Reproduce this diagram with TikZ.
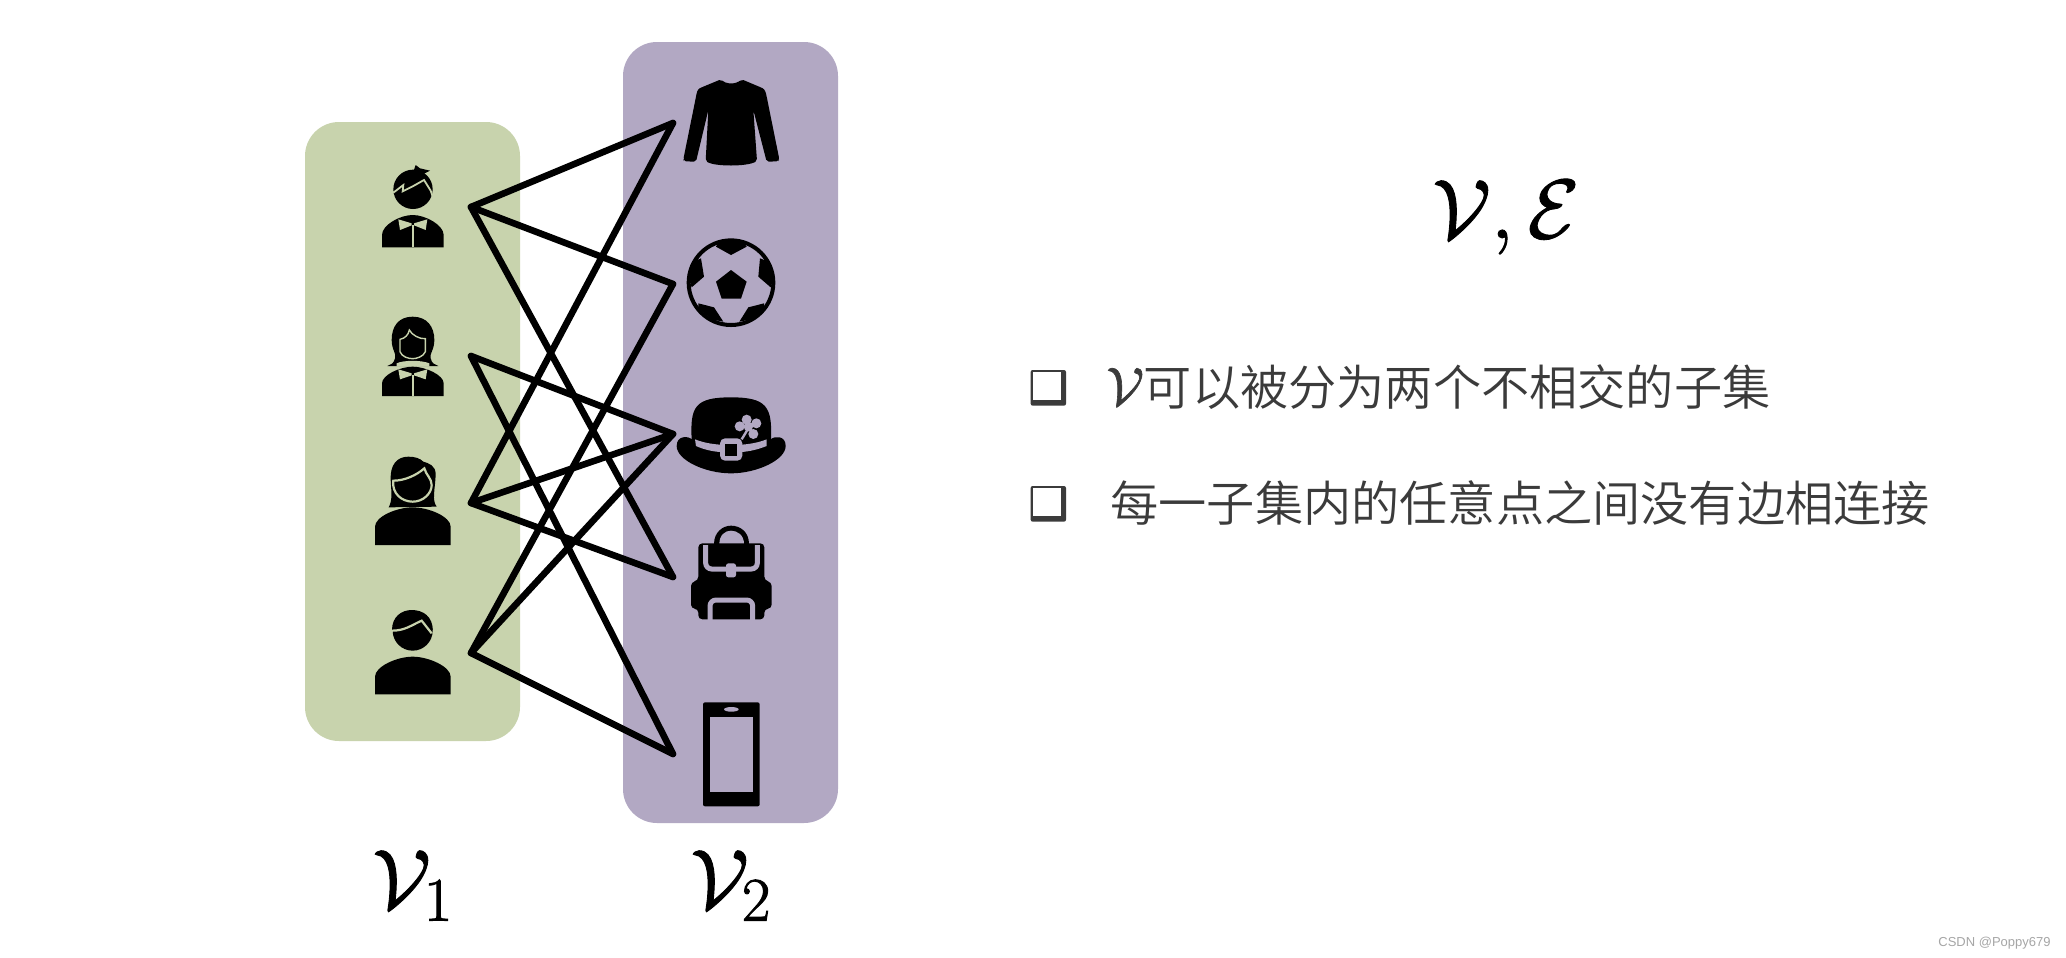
\RequirePackage{fix-cm}
\documentclass[tikz,border=0pt]{standalone}
\usepackage{fontspec}
\newfontfamily\cjk{Noto Sans CJK SC DemiLight}
\newfontfamily\wm{Liberation Sans}
\DeclareMathSizes{42}{42}{31}{22}
\DeclareMathSizes{27}{27}{19}{14}
\definecolor{grp1}{HTML}{C8D3AD}
\definecolor{grp2}{HTML}{B2A8C3}
\definecolor{ink}{HTML}{3B3B3B}
\newcommand{\heavy}[2]{\special{pdf:literal 2 Tr #1 w}#2\special{pdf:literal 0 Tr 0.3985 w}}
\tikzset{
  grpbox/.style={rounded corners=17pt},
  edge/.style={line width=3.3pt,line cap=round,black},
  zm/.style n args={2}{shift={(#1,#2)},x=0.16667pt,y=-0.16667pt},
  bigmath/.style={inner sep=0pt,anchor=base west,black},
  zh/.style={inner sep=0pt,anchor=base west,text=ink,font=\cjk\fontsize{24.1}{24.1}\selectfont},
  gl/.style={draw=grp1,line width=0.9pt},
}
\newcommand{\checkbox}[2]{%
  \begin{scope}[zm={#1}{#2}]
    \fill[ink,rounded corners=1pt] (92,90) rectangle (198,197);
    \fill[white] (100,97) rectangle (182,180);
  \end{scope}}
\begin{document}
\begin{tikzpicture}[x=0.5pt,y=-0.5pt]
\useasboundingbox (0,0) rectangle (2066,958);
\fill[white] (0,0) rectangle (2066,958);
% groups
\fill[grp1,grpbox] (305,122) rectangle (520,741);
\fill[grp2,grpbox] (623,42) rectangle (838,823);

% --- boy
\begin{scope}[zm={280}{100}]
  \fill (399,268) circle[radius=59];
  \fill (407,195) -- (420,205) -- (450,212) -- (430,222) -- (400,215) -- cycle;
  \draw[gl] (340,278) -- (370,255) -- (368,274) -- (400,258) -- (432,240) -- (452,272) -- (458,290);
  \fill (306,442) -- (306,405) .. controls (306,375) and (360,345) .. (398,345) .. controls (436,345) and (491,375) .. (491,405) -- (491,442) -- cycle;
  \fill[grp1] (355,358) -- (395,370) -- (395,376) -- (360,390) -- cycle;
  \fill[grp1] (442,358) -- (402,370) -- (402,376) -- (437,390) -- cycle;
  \fill[grp1] (395,376) rectangle (402,442);
\end{scope}
% --- girl
\begin{scope}[zm={280}{100}]
  \fill (398,650) .. controls (355,650) and (335,680) .. (335,720) .. controls (335,750) and (350,760) .. (345,775) .. controls (342,790) and (332,795) .. (322,798) -- (475,798) .. controls (465,795) and (455,790) .. (452,775) .. controls (448,760) and (463,750) .. (463,720) .. controls (463,680) and (441,650) .. (398,650) -- cycle;
  \draw[gl,line width=0.7pt] (360,718) .. controls (375,715) and (385,705) .. (388,690) .. controls (395,705) and (420,718) .. (436,716) -- (436,755) .. controls (430,770) and (410,776) .. (398,776) .. controls (385,776) and (365,770) .. (360,755) -- cycle;
  \fill[grp1] (350,790) .. controls (370,780) and (425,780) .. (448,790) -- (448,800) -- (350,800) -- cycle;
  \fill (306,888) -- (306,850) .. controls (306,825) and (360,800) .. (398,800) .. controls (436,800) and (491,825) .. (491,850) -- (491,888) -- cycle;
  \fill[grp1] (355,808) -- (395,820) -- (395,826) -- (360,838) -- cycle;
  \fill[grp1] (442,808) -- (402,820) -- (402,826) -- (437,838) -- cycle;
  \fill[grp1] (395,826) rectangle (402,888);
\end{scope}
% --- woman
\begin{scope}[zm={280}{400}]
  \fill (385,170) .. controls (350,170) and (330,195) .. (332,240) .. controls (334,275) and (338,300) .. (326,322) -- (470,320) .. controls (455,300) and (465,270) .. (467,225) .. controls (468,195) and (445,190) .. (430,185) .. controls (420,175) and (405,170) .. (385,170) -- cycle;
  \draw[gl,line width=1.1pt] (340,242) .. controls (375,242) and (410,225) .. (433,205) .. controls (438,225) and (455,235) .. (455,255) .. controls (455,280) and (430,305) .. (398,305) .. controls (365,305) and (335,280) .. (340,242) -- cycle;
  \fill (285,435) -- (285,380) .. controls (285,350) and (350,322) .. (398,322) .. controls (446,322) and (512,350) .. (512,380) -- (512,435) -- cycle;
\end{scope}
% --- man
\begin{scope}[zm={280}{400}]
  \fill (398,692) circle[radius=60];
  \fill (336,690) .. controls (336,650) and (365,630) .. (395,630) .. controls (430,630) and (458,650) .. (458,690) -- cycle;
  \draw[gl,line width=1.1pt] (336,692) .. controls (375,692) and (395,675) .. (425,662) -- (455,700);
  \fill (285,883) -- (285,830) .. controls (285,800) and (350,770) .. (398,770) .. controls (446,770) and (512,800) .. (512,830) -- (512,883) -- cycle;
\end{scope}
% --- shirt
\begin{scope}[zm={640}{50}]
  \fill[rounded corners=1pt] (243,88) .. controls (250,95) and (260,100) .. (273,100) .. controls (285,100) and (297,95) .. (305,88) -- (362,112) .. controls (375,118) and (378,130) .. (380,140) -- (418,328) -- (415,334) -- (380,335) -- (340,180) -- (351,333) .. controls (320,350) and (225,350) .. (197,333) -- (205,180) -- (168,335) -- (132,334) -- (130,328) -- (168,140) .. controls (170,130) and (172,118) .. (185,112) -- cycle;
\end{scope}
% --- ball
\begin{scope}[zm={640}{50}]
  \draw[line width=2pt] (273,698) circle[radius=127];
  \fill (273,660) -- (320,695) -- (303,746) -- (245,746) -- (228,695) -- cycle;
  \fill (228,590) -- (273,615) -- (320,590) -- (310,575) -- (236,575) -- cycle;
  \fill (183,625) -- (192,680) -- (155,712) -- (145,680) -- (160,635) -- cycle;
  \fill (360,625) -- (355,680) -- (392,712) -- (402,680) -- (385,635) -- cycle;
  \fill (175,760) -- (222,772) -- (250,815) -- (215,808) -- (175,775) -- cycle;
  \fill (372,760) -- (325,772) -- (298,815) -- (333,808) -- (373,775) -- cycle;
\end{scope}
% --- hat
\begin{scope}[zm={640}{370}]
  \fill (155,208) .. controls (150,110) and (165,82) .. (273,82) .. controls (380,82) and (397,110) .. (393,208) .. controls (402,198) and (437,195) .. (437,228) .. controls (437,270) and (350,310) .. (273,310) .. controls (195,310) and (110,270) .. (110,228) .. controls (110,195) and (146,198) .. (155,208) -- cycle;
  \fill[grp2] (165,208) .. controls (190,218) and (215,222) .. (240,224) -- (240,246) .. controls (215,244) and (190,238) .. (168,228) -- cycle;
  \fill[grp2] (305,224) .. controls (330,222) and (355,218) .. (380,208) -- (380,228) .. controls (355,238) and (330,244) .. (305,246) -- cycle;
  \fill[grp2,rounded corners=2.5pt] (240,205) rectangle (307,272);
  \fill (255,222) rectangle (292,258);
  \fill[grp2] (320,149) circle[radius=15] (349,160) circle[radius=15] (299,169) circle[radius=15] (340,192) circle[radius=15] (325,170) circle[radius=14];
  \draw[grp2,line width=1.2pt] (322,180) -- (305,208);
\end{scope}
% --- backpack
\begin{scope}[zm={640}{370}]
  \fill (222,522) .. controls (222,485) and (250,467) .. (273,467) .. controls (300,467) and (327,485) .. (327,522) -- cycle;
  \fill[grp2] (238,522) .. controls (238,495) and (255,482) .. (273,482) .. controls (292,482) and (312,495) .. (312,522) -- cycle;
  \fill[rounded corners=2pt] (175,632) -- (175,520) -- (373,520) -- (373,632) -- (395,636) -- (395,716) -- (373,716) -- (373,748) -- (175,748) -- (175,716) -- (153,716) -- (153,636) -- cycle;
  \draw[grp2,line width=2.5pt,rounded corners=3pt] (197,525) -- (197,597) -- (352,597) -- (352,525);
  \fill[grp2,rounded corners=1.2pt] (258,580) rectangle (288,622);
  \draw[grp2,line width=2.5pt,rounded corners=3pt] (210,750) -- (210,690) -- (338,690) -- (338,750);
\end{scope}
% --- phone
\begin{scope}[zm={640}{370}]
  \fill[rounded corners=1pt] (189,997) rectangle (359,1309);
  \fill[grp2] (210,1040) rectangle (338,1267);
  \fill[grp2] (274,1018) ellipse[x radius=22,y radius=7];
\end{scope}

% connectors
\coordinate (u1) at (471,207);
\coordinate (u2) at (471,356);
\coordinate (u3) at (471,503);
\coordinate (u4) at (471,653);
\coordinate (i1) at (673,123);
\coordinate (i2) at (673,284);
\coordinate (i3) at (673,434);
\coordinate (i4) at (673,577);
\coordinate (i5) at (673,754);
\draw[edge] (u1) -- (i1);
\draw[edge] (u1) -- (i2);
\draw[edge] (u1) -- (i4);
\draw[edge] (u2) -- (i3);
\draw[edge] (u2) -- (i5);
\draw[edge] (u3) -- (i1);
\draw[edge] (u3) -- (i3);
\draw[edge] (u3) -- (i4);
\draw[edge] (u4) -- (i2);
\draw[edge] (u4) -- (i3);
\draw[edge] (u4) -- (i5);

% labels
\node[bigmath,font=\fontsize{42}{42}\selectfont] (l1) at (372,908) {\heavy{0.45}{$\mathcal{V}_1$}};
\node[bigmath,font=\fontsize{42}{42}\selectfont] (l2) at (690,908) {\heavy{0.45}{$\mathcal{V}_2$}};
\node[bigmath,font=\fontsize{42}{42}\selectfont] (top) at (1432,238) {\heavy{0.45}{$\mathcal{V},\mathcal{E}$}};

% list
\checkbox{1000}{340}
\checkbox{1000}{456}
\node[zh] (t1) at (1106,405) {{\fontsize{27}{27}\selectfont\heavy{0.3}{$\mathcal{V}$}}可以被分为两个不相交的子集};
\node[zh] (t2) at (1110,521) {每一子集内的任意点之间没有边相连接};
\node[inner sep=0pt,anchor=base west,text=black!35,font=\wm\fontsize{6.5}{6.5}\selectfont] (wm) at (1938,946) {CSDN @Poppy679};
\end{tikzpicture}
\end{document}
